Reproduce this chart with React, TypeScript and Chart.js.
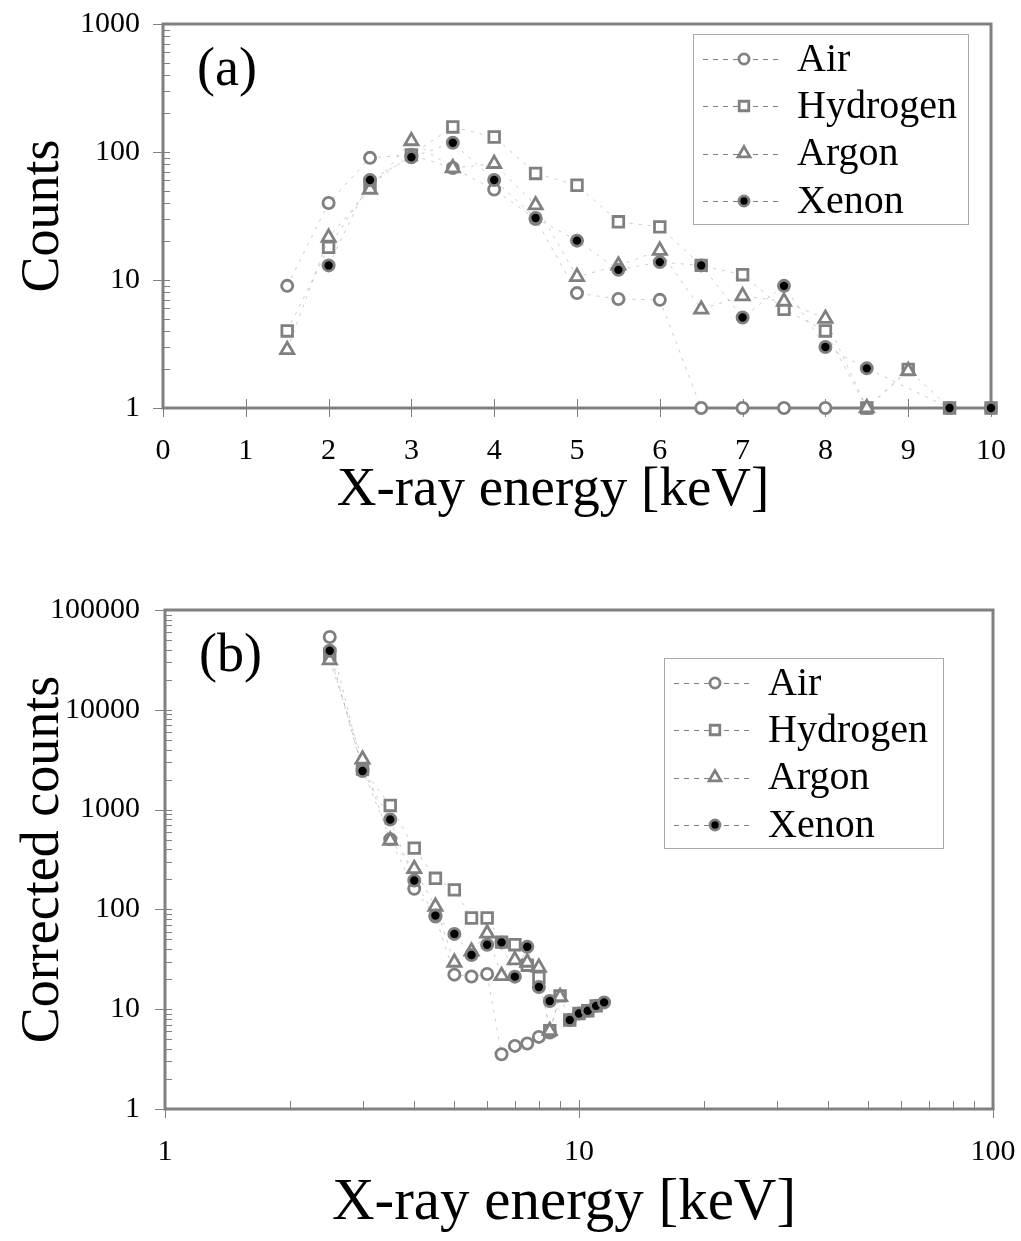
import React, { useEffect, useRef } from 'react';
import { Chart, registerables } from 'chart.js';

Chart.register(...registerables);

// ---------- data ----------
const SERIES_NAMES = ['Air', 'Hydrogen', 'Argon', 'Xenon'];

// Panel (a): raw counts vs energy (linear x)
const ENERGY_A = [1.5, 2, 2.5, 3, 3.5, 4, 4.5, 5, 5.5, 6, 6.5, 7, 7.5, 8, 8.5, 9, 9.5, 10];
const AIR_A = [9, 40, 90, 95, 75, 51, 30, 7.9, 7.1, 7, 1, 1, 1, 1, 1, null, null, null];
const HYDROGEN_A = [4, 18, 56, 95, 157, 131, 68, 55, 28.5, 26, 13, 11, 5.9, 4, 1, 2, 1, 1];
const ARGON_A = [2.85, 21.5, 51, 122, 75, 81, 38.5, 10.6, 13, 17, 5.9, 7.5, 6.8, 5, 1, 1.95, null, null];
const XENON_A = [null, 13, 60.5, 91, 118, 60.5, 30.5, 20.3, 12, 13.8, 13, 5.1, 9, 3, 2.04, null, 1, 1];

// Panel (b): corrected counts vs energy (log x)
const ENERGY_B = [2.5, 3, 3.5, 4, 4.5, 5, 5.5, 6, 6.5, 7, 7.5, 8, 8.5, 9, 9.5, 10, 10.5, 11, 11.5];
const AIR_B = [53600, 2550, 506, 161, 85, 22.2, 21.3, 22.5, 3.54, 4.29, 4.53, 5.28, 5.84, null, null, null, null, null, null];
const HYDROGEN_B = [36000, 2550, 1100, 411, 205, 157, 82, 82, 47, 44.3, 27.6, 20.8, 6.1, 13.6, 7.8, 9.06, 9.64, 10.8, null];
const ARGON_B = [31500, 3190, 491, 255, 107, 29.4, 38, 57.5, 21.6, 31.1, 29.4, 26.2, 6.07, 13.3, null, null, null, null, null];
const XENON_B = [39000, 2440, 797, 195, 86.7, 56.8, 34.9, 44.3, 46.7, 21.2, 42.3, 16.7, 12.1, null, 7.8, 9.06, 9.64, 10.8, 11.7];

// Tick labels
const X_TICKS_A = [0, 1, 2, 3, 4, 5, 6, 7, 8, 9, 10];
const Y_TICKS_A = [1, 10, 100, 1000];
const X_TICKS_B = [1, 10, 100];
const Y_TICKS_B = [1, 10, 100, 1000, 10000, 100000];

const X_TITLE = 'X-ray energy [keV]';
const Y_TITLE_A = 'Counts';
const Y_TITLE_B = 'Corrected counts';

// ---------- styling ----------
const FONT = '"Liberation Serif", "Times New Roman", serif';
const GRAY = '#808080';
const STYLES = [
  { pointStyle: 'circle', radius: 5.6, bg: '#ffffff' },
  { pointStyle: 'rect', radius: 7.5, bg: '#ffffff' },
  { pointStyle: 'triangle', radius: 7.6, bg: '#ffffff' },
  { pointStyle: 'circle', radius: 5.6, bg: '#000000' },
];

function minorTicks(decades: number[]): number[] {
  const out: number[] = [];
  for (let i = 0; i < decades.length - 1; i++) {
    for (let k = 2; k <= 9; k++) out.push(decades[i] * k);
  }
  return out;
}

function makeDatasets(xs: number[], series: (number | null)[][]) {
  return series.map((ys, i) => {
    const pts = xs
      .map((x, j) => ({ x, y: ys[j] }))
      .filter((p) => p.y !== null && p.y !== undefined);
    const st = STYLES[i];
    return {
      label: SERIES_NAMES[i],
      data: pts,
      showLine: true,
      borderColor: 'rgba(128,128,128,0.4)',
      borderWidth: 1,
      borderDash: [3, 6],
      pointStyle: st.pointStyle,
      pointRadius: st.radius,
      pointBorderWidth: 2.8,
      pointBorderColor: GRAY,
      pointBackgroundColor: st.bg,
      clip: false,
      order: 4 - i,
    };
  });
}

function drawMarker(ctx: CanvasRenderingContext2D, style: string, r: number, x: number, y: number) {
  ctx.beginPath();
  if (style === 'circle') {
    ctx.arc(x, y, r, 0, Math.PI * 2);
  } else if (style === 'rect') {
    const s = r * Math.SQRT1_2;
    ctx.rect(x - s, y - s, 2 * s, 2 * s);
  } else if (style === 'triangle') {
    let a = 0;
    ctx.moveTo(x + Math.sin(a) * r, y - Math.cos(a) * r);
    a += (2 * Math.PI) / 3;
    ctx.lineTo(x + Math.sin(a) * r, y - Math.cos(a) * r);
    a += (2 * Math.PI) / 3;
    ctx.lineTo(x + Math.sin(a) * r, y - Math.cos(a) * r);
    ctx.closePath();
  }
  ctx.fill();
  ctx.stroke();
}

const framePlugin = {
  id: 'frame',
  beforeDatasetsDraw(chart: any, _args: any, opts: any) {
    const { ctx, chartArea: a, scales } = chart;
    const xs = scales.x;
    const ys = scales.y;
    ctx.save();
    ctx.strokeStyle = GRAY;
    ctx.lineWidth = 1;
    ctx.beginPath();
    for (const v of opts.xMajor) {
      const p = Math.round(xs.getPixelForValue(v)) + 0.5;
      ctx.moveTo(p, a.bottom - 9);
      ctx.lineTo(p, a.bottom + 9);
    }
    for (const v of opts.xMinor) {
      const p = Math.round(xs.getPixelForValue(v)) + 0.5;
      ctx.moveTo(p, a.bottom - 8);
      ctx.lineTo(p, a.bottom);
    }
    for (const v of opts.yMajor) {
      const p = Math.round(ys.getPixelForValue(v)) + 0.5;
      ctx.moveTo(a.left - 10, p);
      ctx.lineTo(a.left + 7, p);
    }
    for (const v of opts.yMinor) {
      const p = Math.round(ys.getPixelForValue(v)) + 0.5;
      ctx.moveTo(a.left, p);
      ctx.lineTo(a.left + 7, p);
    }
    ctx.stroke();
    ctx.lineWidth = 3;
    ctx.strokeRect(a.left, a.top, a.right - a.left, a.bottom - a.top);

    // x-axis title (real text)
    const t = opts.xTitle;
    ctx.fillStyle = '#000000';
    ctx.font = `${t.size}px ${FONT}`;
    ctx.textAlign = 'center';
    ctx.textBaseline = 'alphabetic';
    ctx.fillText(t.text, (a.left + a.right) / 2 + t.dx, a.bottom + t.dy);
    ctx.restore();
  },
};

const legendPlugin = {
  id: 'customLegend',
  afterDatasetsDraw(chart: any, _args: any, opts: any) {
    const { ctx, chartArea: a } = chart;
    const w = opts.w;
    const h = opts.h;
    const bx = Math.round(a.right - opts.right - w);
    const by = Math.round(a.top + opts.top);
    ctx.save();
    ctx.fillStyle = '#ffffff';
    ctx.fillRect(bx, by, w, h);
    ctx.strokeStyle = '#a8a8a8';
    ctx.lineWidth = 1;
    ctx.strokeRect(bx + 0.5, by + 0.5, w, h);
    const rows = [25, 72, 119.5, 167];
    chart.data.datasets.forEach((ds: any, i: number) => {
      const cy = by + rows[i];
      ctx.strokeStyle = GRAY;
      ctx.lineWidth = 1;
      ctx.setLineDash([5, 5]);
      ctx.beginPath();
      ctx.moveTo(bx + 10, Math.round(cy) + 0.5);
      ctx.lineTo(bx + 86, Math.round(cy) + 0.5);
      ctx.stroke();
      ctx.setLineDash([]);
      ctx.fillStyle = ds.pointBackgroundColor;
      ctx.strokeStyle = ds.pointBorderColor;
      ctx.lineWidth = ds.pointBorderWidth;
      drawMarker(ctx, ds.pointStyle, ds.pointRadius * 0.9, bx + 51, cy);
      ctx.fillStyle = '#000000';
      ctx.font = `40px ${FONT}`;
      ctx.textAlign = 'left';
      ctx.textBaseline = 'middle';
      ctx.fillText(ds.label, bx + 104, cy + 1);
    });
    ctx.font = `54px ${FONT}`;
    ctx.textBaseline = 'alphabetic';
    ctx.fillStyle = '#000000';
    ctx.fillText(opts.panel, a.left + 34, a.top + 61);
    ctx.restore();
  },
};

function baseOptions(cfg: any) {
  return {
    responsive: false,
    animation: false,
    events: [],
    layout: { padding: cfg.padding },
    plugins: {
      legend: { display: false },
      tooltip: { enabled: false },
      frame: cfg.frame,
      customLegend: cfg.legend,
    },
    scales: {
      x: {
        type: cfg.xType,
        min: cfg.xMin,
        max: cfg.xMax,
        grid: { display: false, drawTicks: false },
        border: { display: false },
        afterBuildTicks: (s: any) => {
          s.ticks = cfg.xTicks.map((v: number) => ({ value: v }));
        },
        afterFit: (s: any) => {
          s.height = cfg.xHeight;
          s.paddingLeft = 0;
          s.paddingRight = 0;
          s.paddingTop = 0;
          s.paddingBottom = 0;
        },
        ticks: {
          autoSkip: false,
          maxRotation: 0,
          padding: cfg.xTickPad,
          color: '#000',
          font: { family: FONT, size: 30, lineHeight: 1 },
          callback: (v: any) => String(v),
        },
        title: { display: false },
      },
      y: {
        type: 'logarithmic',
        min: cfg.yMin,
        max: cfg.yMax,
        grid: { display: false, drawTicks: false },
        border: { display: false },
        afterBuildTicks: (s: any) => {
          s.ticks = cfg.yTicks.map((v: number) => ({ value: v }));
        },
        afterFit: (s: any) => {
          s.width = cfg.yWidth;
          s.paddingLeft = 0;
          s.paddingRight = 0;
          s.paddingTop = 0;
          s.paddingBottom = 0;
        },
        ticks: {
          autoSkip: false,
          padding: cfg.yTickPad,
          color: '#000',
          font: { family: FONT, size: 30, lineHeight: 1 },
          callback: (v: any) => String(v),
        },
        title: {
          display: true,
          text: cfg.yTitle,
          color: '#000',
          font: { family: FONT, size: 54, lineHeight: 1 },
          padding: { top: cfg.yTitlePad, bottom: 0 },
        },
      },
    },
  };
}

function ChartCanvas({ config, width, height, top }: any) {
  const ref = useRef<HTMLCanvasElement | null>(null);
  useEffect(() => {
    if (!ref.current) return;
    const chart = new Chart(ref.current, config);
    return () => chart.destroy();
  }, []);
  return (
    <canvas
      ref={ref}
      width={width}
      height={height}
      style={{ position: 'absolute', left: 0, top, width, height }}
    />
  );
}

export default function App() {
  Chart.defaults.font.family = FONT;

  const configA: any = {
    type: 'scatter',
    data: { datasets: makeDatasets(ENERGY_A, [AIR_A, HYDROGEN_A, ARGON_A, XENON_A]) },
    options: baseOptions({
      padding: { top: 24, right: 30, left: 0, bottom: 0 },
      xType: 'linear',
      xMin: 0,
      xMax: 10,
      xTicks: X_TICKS_A,
      xHeight: 137,
      xTickPad: 28,
      yMin: 1,
      yMax: 1000,
      yTicks: Y_TICKS_A,
      yWidth: 163,
      yTickPad: 23,
      yTitle: Y_TITLE_A,
      yTitlePad: 17,
      frame: {
        xMajor: X_TICKS_A,
        xMinor: [],
        yMajor: Y_TICKS_A,
        yMinor: minorTicks(Y_TICKS_A),
        xTitle: { text: X_TITLE, size: 55, dx: -24, dy: 97 },
      },
      legend: { w: 275, h: 190, right: 23, top: 10, panel: '(a)' },
    }),
    plugins: [framePlugin, legendPlugin],
  };

  const configB: any = {
    type: 'scatter',
    data: { datasets: makeDatasets(ENERGY_B, [AIR_B, HYDROGEN_B, ARGON_B, XENON_B]) },
    options: baseOptions({
      padding: { top: 65, right: 28, left: 0, bottom: 0 },
      xType: 'logarithmic',
      xMin: 1,
      xMax: 100,
      xTicks: X_TICKS_B,
      xHeight: 132,
      xTickPad: 28,
      yMin: 1,
      yMax: 100000,
      yTicks: Y_TICKS_B,
      yWidth: 165,
      yTickPad: 25,
      yTitle: Y_TITLE_B,
      yTitlePad: 17,
      frame: {
        xMajor: X_TICKS_B,
        xMinor: minorTicks(X_TICKS_B),
        yMajor: Y_TICKS_B,
        yMinor: minorTicks(Y_TICKS_B),
        xTitle: { text: X_TITLE, size: 59, dx: -15, dy: 110 },
      },
      legend: { w: 279, h: 190, right: 50, top: 48, panel: '(b)' },
    }),
    plugins: [framePlugin, legendPlugin],
  };

  return (
    <div style={{ position: 'absolute', left: 0, top: 0, width: 1021, height: 1241, background: '#fff' }}>
      <ChartCanvas config={configA} width={1021} height={545} top={0} />
      <ChartCanvas config={configB} width={1021} height={696} top={545} />
    </div>
  );
}
